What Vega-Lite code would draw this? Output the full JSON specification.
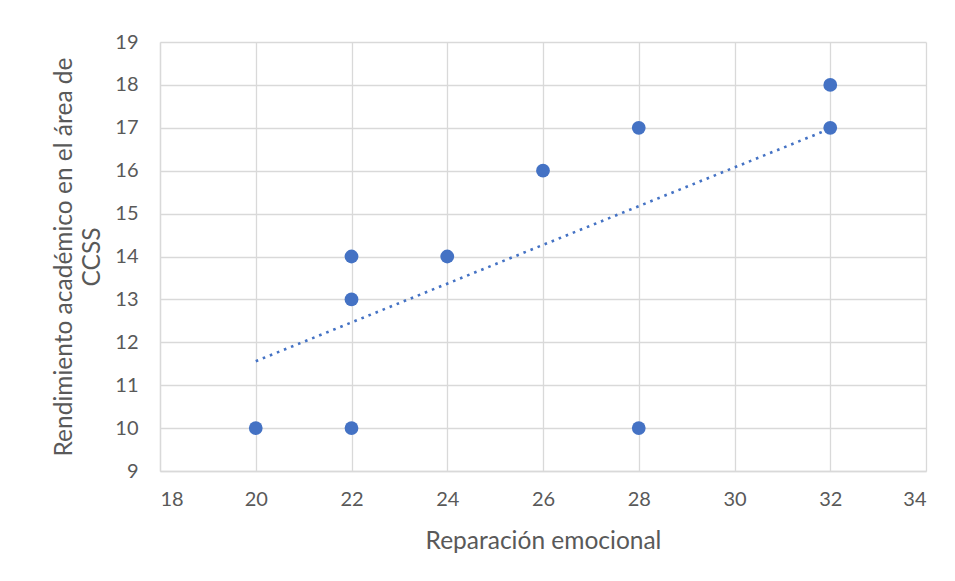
{
  "$schema": "https://vega.github.io/schema/vega-lite/v6.json",
  "width": 766,
  "height": 429,
  "autosize": {"type": "none"},
  "padding": {"left": 160, "top": 42, "right": 29, "bottom": 110},
  "background": "white",
  "config": {
    "font": "Lato",
    "view": {"stroke": null},
    "axis": {
      "labelFont": "Lato",
      "titleFont": "Lato",
      "labelColor": "#595959",
      "titleColor": "#595959",
      "labelFontSize": 20,
      "titleFontSize": 24.5,
      "titleFontWeight": "normal",
      "gridColor": "#d9d9d9",
      "gridWidth": 1.3,
      "domainColor": "#d9d9d9",
      "domainWidth": 1.3,
      "ticks": false
    }
  },
  "datasets": {
    "points": [
      {"reparacion": 20, "rendimiento": 10},
      {"reparacion": 22, "rendimiento": 10},
      {"reparacion": 22, "rendimiento": 13},
      {"reparacion": 22, "rendimiento": 14},
      {"reparacion": 24, "rendimiento": 14},
      {"reparacion": 26, "rendimiento": 16},
      {"reparacion": 28, "rendimiento": 17},
      {"reparacion": 28, "rendimiento": 10},
      {"reparacion": 32, "rendimiento": 17},
      {"reparacion": 32, "rendimiento": 18}
    ],
    "trend": [
      {"reparacion": 20, "rendimiento": 11.56},
      {"reparacion": 32, "rendimiento": 16.98}
    ]
  },
  "layer": [
    {
      "data": {"name": "trend"},
      "mark": {"type": "line", "color": "#4472C4", "strokeWidth": 2.6, "strokeDash": [2.6, 5], "strokeCap": "butt"},
      "encoding": {
        "x": {"field": "reparacion", "type": "quantitative"},
        "y": {"field": "rendimiento", "type": "quantitative"}
      }
    },
    {
      "data": {"name": "points"},
      "mark": {"type": "point", "shape": "circle", "filled": true, "color": "#4472C4", "opacity": 1, "size": 190},
      "encoding": {
        "x": {
          "field": "reparacion",
          "type": "quantitative",
          "scale": {"domain": [18, 34], "nice": false, "zero": false},
          "axis": {"values": [18, 20, 22, 24, 26, 28, 30, 32, 34], "labelPadding": 18, "titlePadding": 20, "title": "Reparación emocional"}
        },
        "y": {
          "field": "rendimiento",
          "type": "quantitative",
          "scale": {"domain": [9, 19], "nice": false, "zero": false},
          "axis": {"values": [9, 10, 11, 12, 13, 14, 15, 16, 17, 18, 19], "labelPadding": 22, "titlePadding": 10, "title": ["Rendimiento académico en el área de", "CCSS"], "titleLineHeight": 28}
        }
      }
    }
  ]
}
